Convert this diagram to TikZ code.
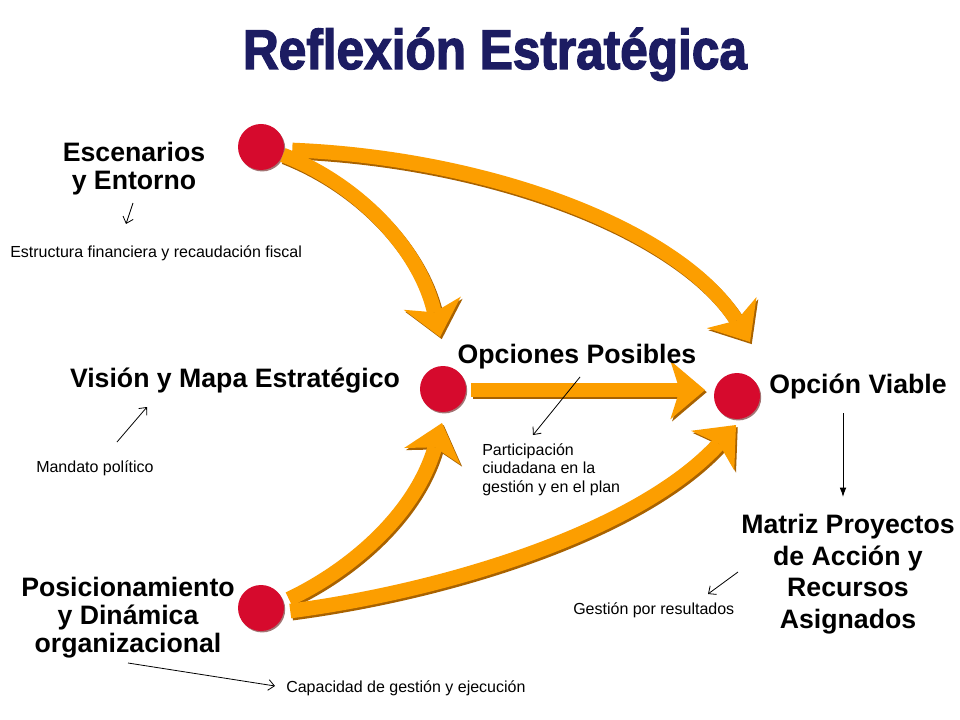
\documentclass[tikz,border=0pt]{standalone}
\usepackage{graphicx}
\usepackage{fontspec}
\setmainfont{Liberation Sans}
\newfontfamily\titlefont[FakeBold=2.5]{Liberation Sans Bold}
\usetikzlibrary{arrows.meta,shadows,calc}
\definecolor{orA}{RGB}{252,158,0}
\definecolor{shC}{RGB}{168,98,0}
\definecolor{redC}{RGB}{214,10,45}
\definecolor{navyC}{RGB}{28,28,98}
\begin{document}
\begin{tikzpicture}[x=0.75pt,y=-0.75pt,
  dot/.style={circle, fill=redC, minimum size=34.5pt, inner sep=0pt,
    drop shadow={shadow xshift=0.9pt, shadow yshift=-1.1pt, fill=red!35!black, opacity=0.55}},
  orarrow/.style={line width=11pt, draw=orA,
    -{Stealth[length=26pt,width=44pt,inset=7pt,line width=0pt,fill=orA]}},
  sharrow/.style={line width=11pt, draw=shC,
    -{Stealth[length=26pt,width=44pt,inset=7pt,line width=0pt,fill=shC]},
    transform canvas={shift={(1.3pt,-1.6pt)}}},
  lab/.style={font=\fontsize{20}{21}\selectfont\bfseries, align=center, inner sep=0pt, anchor=base},
  sm/.style={font=\fontsize{12}{13.7}\selectfont, align=left, inner sep=0pt, anchor=base west},
  thin/.style={line width=0.6pt, -{Straight Barb[length=4.5pt,width=8pt]}},
  ttl/.style={font=\titlefont\fontsize{42}{42}\selectfont, inner sep=0pt, anchor=base}
]
\useasboundingbox (0,0) rectangle (960,720);
\fill[white] (0,0) rectangle (960,720);

% title
\node[ttl, text=navyC] (title) at (495,69) {\scalebox{0.885}[1]{Reflexión Estratégica}};

% circles
\node[dot] (c1) at (261,147) {};
\node[dot] (c2) at (443,389) {};
\node[dot] (c3) at (737,396) {};
\node[dot] (c4) at (261,608) {};

% arrow tips
\coordinate (t1) at (440,337);
\coordinate (t2) at (750,342);
\coordinate (t3) at (705,390);
\coordinate (t4) at (442,423);
\coordinate (t5) at (736,425);

% shadows of arrows
\draw[sharrow] (c1.-20) .. controls (360,185) and (420,250) .. (t1);
\draw[sharrow] ($(c1.east)+(8,3)$) .. controls (490,158) and (680,230) .. (t2);
\draw[sharrow] ($(c2.east)+(5,1)$) -- (t3);
\draw[sharrow] ($(c4.20)+(6,-1)$) .. controls (350,570) and (415,515) .. (t4);
\draw[sharrow] ($(c4.east)+(6,3)$) .. controls (450,590) and (640,530) .. (t5);
% arrows
\draw[orarrow] (c1.-20) .. controls (360,185) and (420,250) .. (t1);
\draw[orarrow] ($(c1.east)+(8,3)$) .. controls (490,158) and (680,230) .. (t2);
\draw[orarrow] ($(c2.east)+(5,1)$) -- (t3);
\draw[orarrow] ($(c4.20)+(6,-1)$) .. controls (350,570) and (415,515) .. (t4);
\draw[orarrow] ($(c4.east)+(6,3)$) .. controls (450,590) and (640,530) .. (t5);

% bold labels (base = baseline of last line)
\node[lab] (esc) at (134,190) {Escenarios\\y Entorno};
\node[lab] (vis) at (235,387) {Visión y Mapa Estratégico};
\node[lab] (opc) at (577,363) {Opciones Posibles};
\node[lab] (via) at (858,393) {Opción Viable};
\node[lab, font=\fontsize{20}{23.6}\selectfont\bfseries] (mat) at (848,628) {Matriz Proyectos\\de Acción y\\Recursos\\Asignados};
\node[lab] (pos) at (128,652) {Posicionamiento\\y Dinámica\\organizacional};

% small labels
\node[sm] (est) at (10,258) {Estructura financiera y recaudación fiscal};
\node[sm] (man) at (36,472) {Mandato político};
\node[sm] (par) at (482,492) {Participación\\ciudadana en la\\gestión y en el plan};
\node[sm] (ges) at (573,614) {Gestión por resultados};
\node[sm] (cap) at (286,692) {Capacidad de gestión y ejecución};

% thin arrows
\coordinate (a1s) at (133,203); \coordinate (a1e) at (126,224);
\coordinate (a2s) at (117,442); \coordinate (a2e) at (147,407);
\coordinate (a3s) at (580,377); \coordinate (a3e) at (533,435);
\coordinate (a4s) at (738,572); \coordinate (a4e) at (708,594);
\coordinate (a5s) at (128,663); \coordinate (a5e) at (275,686);
\coordinate (a6s) at (843,413); \coordinate (a6e) at (843,497);
\draw[thin] (a1s) -- (a1e);
\draw[thin] (a2s) -- (a2e);
\draw[thin] (a3s) -- (a3e);
\draw[thin] (a4s) -- (a4e);
\draw[thin] (a5s) -- (a5e);
\draw[line width=0.7pt, -{Latex[length=7pt,width=5pt]}] (a6s) -- (a6e);
\end{tikzpicture}
\end{document}
